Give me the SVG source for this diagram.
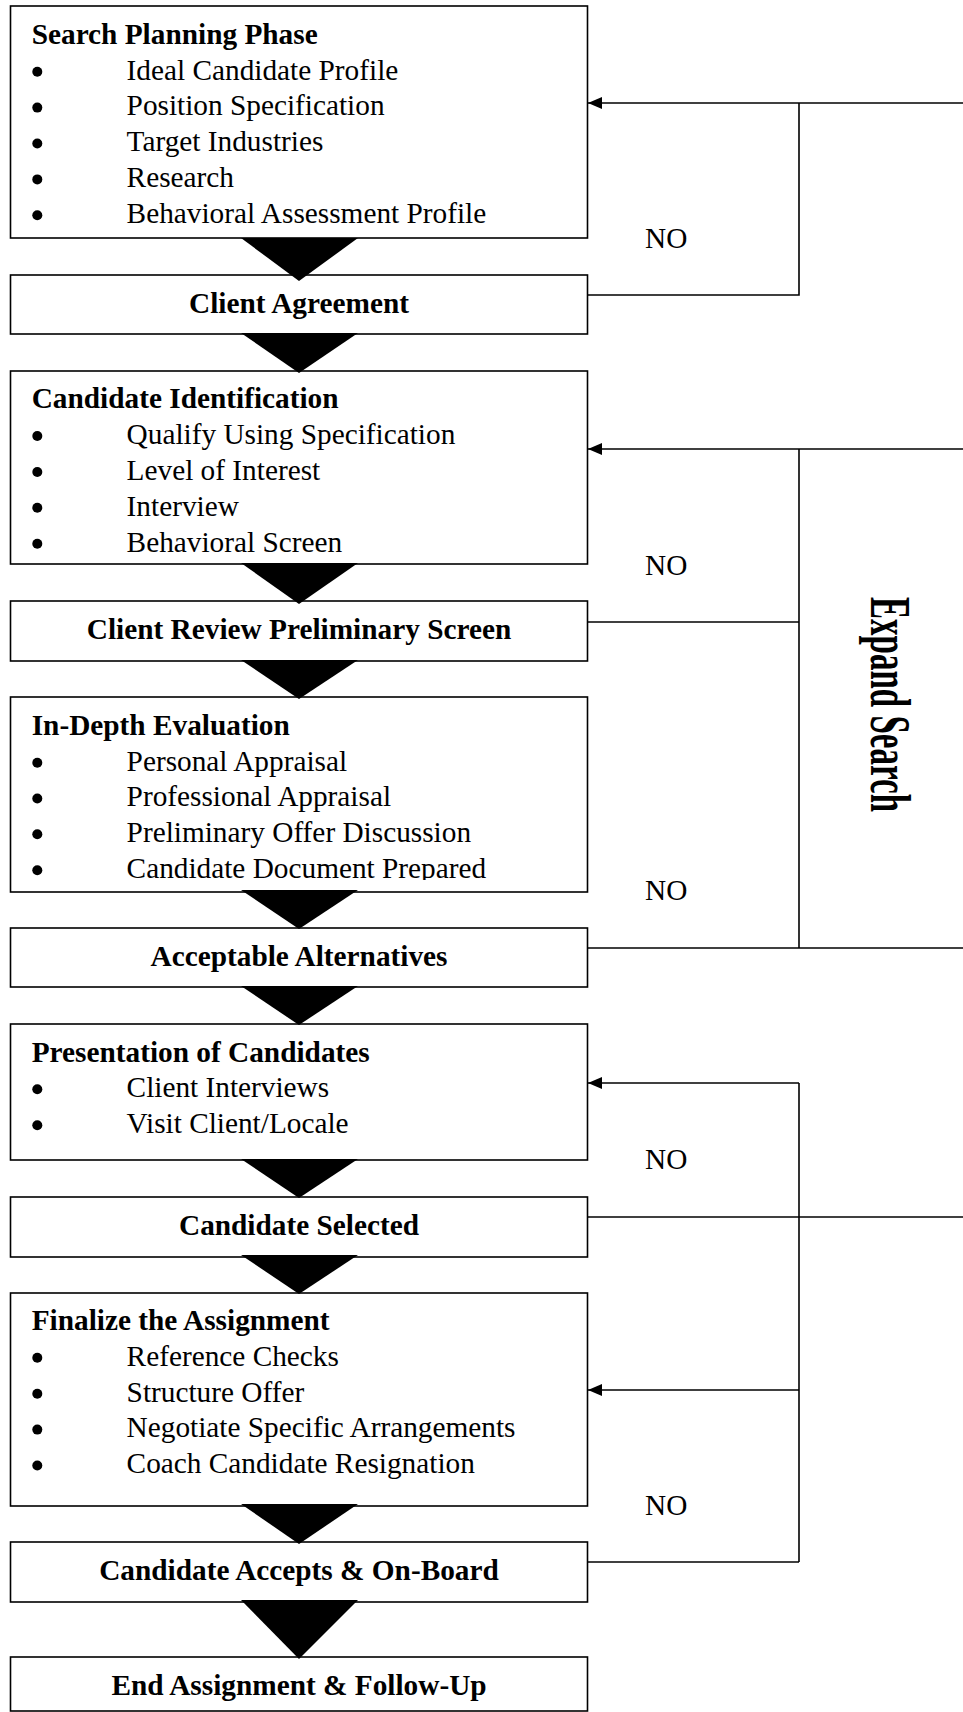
<svg xmlns="http://www.w3.org/2000/svg" width="963" height="1712" viewBox="0 0 963 1712">
<style>
.box{fill:#fff;stroke:#000;stroke-width:1.6}
.t{font-family:"Liberation Serif","Times New Roman",serif;font-size:29.3px;fill:#000}
.b{font-weight:bold}
.c{text-anchor:middle}
.dot{fill:#000}
.ln{stroke:#000;stroke-width:1.6;fill:none}
.arr{stroke:#000;stroke-width:1.6;fill:none;marker-end:url(#ah)}
.tri{fill:#000;stroke:none}
</style>
<defs>
<marker id="ah" markerUnits="userSpaceOnUse" markerWidth="14" markerHeight="12" refX="14" refY="6" orient="auto">
<path d="M0,0 L14,6 L0,12 z" fill="#000"/>
</marker>
<clipPath id="clip5"><rect x="0" y="690" width="600" height="190"/></clipPath>
</defs>
<rect x="0" y="0" width="963" height="1712" fill="#fff"/>

<g id="n1">
<rect class="box" x="10.5" y="6" width="577" height="232"/>
<text class="t b" x="31.7" y="43.5">Search Planning Phase</text>
<circle class="dot" cx="37.3" cy="71.7" r="5"/><text class="t" x="126.6" y="79.5">Ideal Candidate Profile</text>
<circle class="dot" cx="37.3" cy="107.6" r="5"/><text class="t" x="126.6" y="115.4">Position Specification</text>
<circle class="dot" cx="37.3" cy="143.5" r="5"/><text class="t" x="126.6" y="151.3">Target Industries</text>
<circle class="dot" cx="37.3" cy="179.4" r="5"/><text class="t" x="126.6" y="187.2">Research</text>
<circle class="dot" cx="37.3" cy="215.2" r="5"/><text class="t" x="126.6" y="223">Behavioral Assessment Profile</text>
</g>

<g id="n2">
<rect class="box" x="10.5" y="275" width="577" height="59"/>
<text class="t b c" x="299" y="313">Client Agreement</text>
</g>

<g id="n3">
<rect class="box" x="10.5" y="371" width="577" height="193"/>
<text class="t b" x="31.7" y="408.3">Candidate Identification</text>
<circle class="dot" cx="37.3" cy="436" r="5"/><text class="t" x="126.6" y="443.8">Qualify Using Specification</text>
<circle class="dot" cx="37.3" cy="472" r="5"/><text class="t" x="126.6" y="479.8">Level of Interest</text>
<circle class="dot" cx="37.3" cy="507.8" r="5"/><text class="t" x="126.6" y="515.6">Interview</text>
<circle class="dot" cx="37.3" cy="543.7" r="5"/><text class="t" x="126.6" y="551.5">Behavioral Screen</text>
</g>

<g id="n4">
<rect class="box" x="10.5" y="601" width="577" height="60"/>
<text class="t b c" x="299" y="639">Client Review Preliminary Screen</text>
</g>

<g id="n5">
<rect class="box" x="10.5" y="697" width="577" height="195"/>
<text class="t b" x="31.7" y="735">In-Depth Evaluation</text>
<circle class="dot" cx="37.3" cy="762.7" r="5"/><text class="t" x="126.6" y="770.5">Personal Appraisal</text>
<circle class="dot" cx="37.3" cy="798.5" r="5"/><text class="t" x="126.6" y="806.3">Professional Appraisal</text>
<circle class="dot" cx="37.3" cy="834.2" r="5"/><text class="t" x="126.6" y="842">Preliminary Offer Discussion</text>
<circle class="dot" cx="37.3" cy="870.2" r="5"/><text class="t" x="126.6" y="878" clip-path="url(#clip5)">Candidate Document Prepared</text>
</g>

<g id="n6">
<rect class="box" x="10.5" y="928" width="577" height="59"/>
<text class="t b c" x="299" y="966">Acceptable Alternatives</text>
</g>

<g id="n7">
<rect class="box" x="10.5" y="1024" width="577" height="136"/>
<text class="t b" x="31.7" y="1061.7">Presentation of Candidates</text>
<circle class="dot" cx="37.3" cy="1089.2" r="5"/><text class="t" x="126.6" y="1097">Client Interviews</text>
<circle class="dot" cx="37.3" cy="1125.2" r="5"/><text class="t" x="126.6" y="1133">Visit Client/Locale</text>
</g>

<g id="n8">
<rect class="box" x="10.5" y="1197" width="577" height="60"/>
<text class="t b c" x="299" y="1235">Candidate Selected</text>
</g>

<g id="n9">
<rect class="box" x="10.5" y="1293" width="577" height="213"/>
<text class="t b" x="31.7" y="1330">Finalize the Assignment</text>
<circle class="dot" cx="37.3" cy="1357.7" r="5"/><text class="t" x="126.6" y="1365.5">Reference Checks</text>
<circle class="dot" cx="37.3" cy="1393.7" r="5"/><text class="t" x="126.6" y="1401.5">Structure Offer</text>
<circle class="dot" cx="37.3" cy="1429.6" r="5"/><text class="t" x="126.6" y="1437.4">Negotiate Specific Arrangements</text>
<circle class="dot" cx="37.3" cy="1465.5" r="5"/><text class="t" x="126.6" y="1473.3">Coach Candidate Resignation</text>
</g>

<g id="n10">
<rect class="box" x="10.5" y="1542" width="577" height="60"/>
<text class="t b c" x="299" y="1580">Candidate Accepts &amp; On-Board</text>
</g>

<g id="n11">
<rect class="box" x="10.5" y="1657" width="577" height="54"/>
<text class="t b c" x="299" y="1695">End Assignment &amp; Follow-Up</text>
</g>

<g id="connectors">
<polygon class="tri" points="241,238 358,238 299,281"/>
<polygon class="tri" points="241,333 358,333 299,373"/>
<polygon class="tri" points="241,563 358,563 299,604"/>
<polygon class="tri" points="241,660 358,660 299,699"/>
<polygon class="tri" points="241,890 358,890 299,929"/>
<polygon class="tri" points="241,986 358,986 299,1025"/>
<polygon class="tri" points="241,1159 358,1159 299,1198"/>
<polygon class="tri" points="241,1255 358,1255 299,1294"/>
<polygon class="tri" points="241,1504 358,1504 299,1544"/>
<polygon class="tri" points="241,1600 358,1600 299,1659"/>

<line class="arr" x1="963" y1="103" x2="588" y2="103"/>
<polyline class="ln" points="588,295 799,295 799,103"/>

<line class="arr" x1="963" y1="449" x2="588" y2="449"/>
<line class="ln" x1="799" y1="449" x2="799" y2="948"/>
<line class="ln" x1="588" y1="622" x2="799" y2="622"/>
<line class="ln" x1="588" y1="948" x2="963" y2="948"/>

<line class="arr" x1="799" y1="1083" x2="588" y2="1083"/>
<line class="ln" x1="588" y1="1217" x2="963" y2="1217"/>
<line class="ln" x1="799" y1="1083" x2="799" y2="1562"/>
<line class="arr" x1="799" y1="1390" x2="588" y2="1390"/>
<line class="ln" x1="588" y1="1562" x2="799" y2="1562"/>
</g>

<g id="labels">
<text class="t" x="645" y="248">NO</text>
<text class="t" x="645" y="575">NO</text>
<text class="t" x="645" y="900">NO</text>
<text class="t" x="645" y="1169">NO</text>
<text class="t" x="645" y="1515">NO</text>
<text class="t b" transform="translate(871,597) rotate(90)" style="font-size:56px" textLength="215" lengthAdjust="spacingAndGlyphs">Expand Search</text>
</g>
</svg>
